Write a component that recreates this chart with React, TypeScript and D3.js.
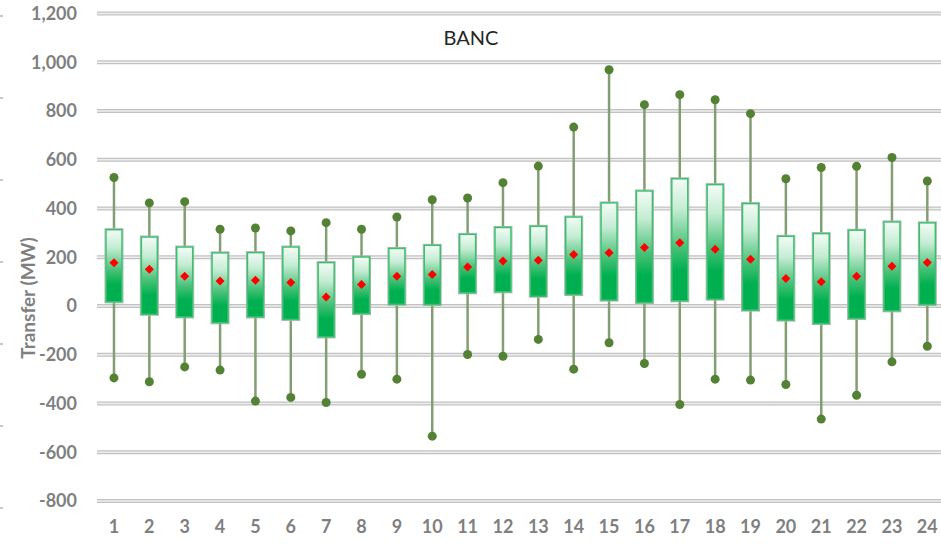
import React from "react";
import * as d3 from "d3";

const hours = ["1","2","3","4","5","6","7","8","9","10","11","12","13","14","15","16","17","18","19","20","21","22","23","24"];
const maxVals = [527, 423, 428, 315, 320, 308, 342, 315, 365, 436, 443, 506, 574, 734, 969, 826, 867, 846, 789, 522, 568, 573, 609, 513];
const q3Vals = [313, 283, 242, 218, 219, 242, 178, 201, 236, 249, 294, 322, 327, 365, 423, 472, 522, 498, 420, 286, 297, 311, 345, 341];
const meanVals = [177, 151, 122, 103, 106, 96, 37, 88, 122, 129, 160, 185, 188, 211, 218, 240, 259, 233, 192, 113, 99, 122, 163, 178];
const q1Vals = [17, -34, -45, -69, -45, -55, -127, -31, 7, 6, 54, 58, 40, 47, 24, 14, 21, 28, -17, -58, -72, -51, -20, 6];
const minVals = [-295, -311, -250, -263, -390, -375, -396, -280, -300, -534, -199, -206, -137, -259, -151, -236, -404, -300, -304, -322, -464, -366, -229, -165];
const yTicks = [1200, 1000, 800, 600, 400, 200, 0, -200, -400, -600, -800];
const edgeMarks = [16, 98, 180, 262, 344, 426, 508];

const W = 941;
const H = 550;

export default function App() {
  const y = d3.scaleLinear().domain([-800, 1200]).range([501, 13.5]);
  const x = d3.scaleBand<string>().domain(hours).range([96.3, 945]).paddingInner(0).paddingOuter(0);
  const bw = 16;
  const fmt = (v: number) => d3.format(",")(v).replace("\u2212", "-");
  const font = "Lato, 'Open Sans', sans-serif";

  return (
    <svg width={W} height={H} style={{ position: "absolute", left: 0, top: 0, background: "#fff" }}>
      <defs>
        <linearGradient id="boxGrad" x1="0" y1="0" x2="0" y2="1">
          <stop offset="0" stopColor="#f4fcf7" />
          <stop offset="0.25" stopColor="#c4ecd3" />
          <stop offset="0.55" stopColor="#4cc27a" />
          <stop offset="0.75" stopColor="#00b050" />
          <stop offset="1" stopColor="#00b050" />
        </linearGradient>
      </defs>
      {edgeMarks.map((m) => (
        <rect key={"em" + m} x={0} y={m - 1} width={3} height={2} fill="#c8c8c8" />
      ))}
      {yTicks.map((t) => (
        <g key={"g" + t}>
          <line x1={97} x2={W} y1={y(t)} y2={y(t)} stroke="#c2c2c2" strokeWidth={4} />
          <line x1={97} x2={W} y1={y(t)} y2={y(t)} stroke="#eeeeee" strokeWidth={1.3} />
          <text x={77} y={y(t)} dy="0.36em" textAnchor="end" fontFamily={font} fontWeight={700} fontSize={18} fill="#7f7f7f">
            {fmt(t)}
          </text>
        </g>
      ))}
      <text
        transform={`translate(35,298) rotate(-90)`}
        textAnchor="middle"
        fontFamily={font}
        fontWeight={700}
        fontSize={19}
        fill="#7f7f7f"
      >
        Transfer (MW)
      </text>
      <text x={471} y={38} dy="0.36em" textAnchor="middle" fontFamily={font} fontSize={20} fill="#262626">
        BANC
      </text>
      {hours.map((h, i) => {
        const cx = (x(h) as number) + x.bandwidth() / 2;
        const top = y(q3Vals[i]);
        const bot = y(q1Vals[i]);
        const my = y(meanVals[i]);
        return (
          <g key={"b" + h}>
            <line x1={cx} x2={cx} y1={y(maxVals[i])} y2={y(minVals[i])} stroke="#849e74" strokeWidth={2.5} />
            <rect x={cx - bw / 2 - 1} y={top - 1} width={bw + 2} height={bot - top + 2} fill="none" stroke="#b0b8b0" strokeWidth={1} />
            <rect x={cx - bw / 2} y={top} width={bw} height={bot - top} fill="url(#boxGrad)" stroke="#3cc070" strokeWidth={1.5} />
            <circle cx={cx} cy={y(maxVals[i])} r={4.5} fill="#548235" />
            <circle cx={cx} cy={y(minVals[i])} r={4.5} fill="#548235" />
            <path d={`M${cx},${my - 4.5}L${cx + 4.5},${my}L${cx},${my + 4.5}L${cx - 4.5},${my}Z`} fill="#ff0000" />
            <text x={cx} y={527} dy="0.36em" textAnchor="middle" fontFamily={font} fontWeight={700} fontSize={18} fill="#7f7f7f">
              {h}
            </text>
          </g>
        );
      })}
    </svg>
  );
}
